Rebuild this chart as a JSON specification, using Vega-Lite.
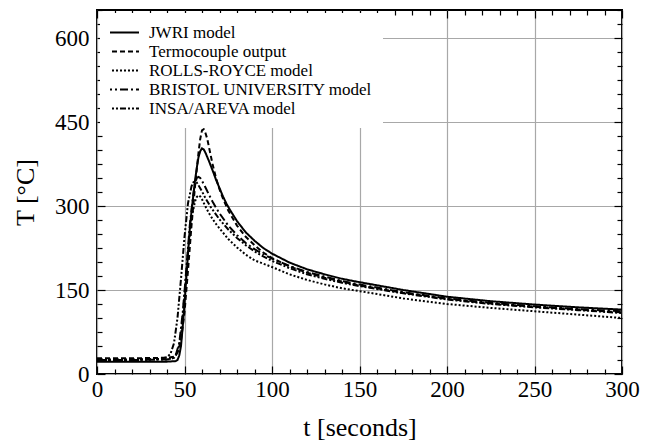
{
  "$schema": "https://vega.github.io/schema/vega-lite/v6.json",
  "width": 525,
  "height": 364,
  "autosize": {"type": "none"},
  "padding": {"left": 97, "top": 10, "right": 35, "bottom": 70},
  "background": "white",
  "config": {
    "font": "Liberation Serif",
    "view": {"stroke": "black", "strokeWidth": 2},
    "axis": {"domain": false, "labelFont": "Liberation Serif", "titleFont": "Liberation Serif", "labelColor": "black", "titleColor": "black", "tickColor": "black", "tickWidth": 1.2, "gridColor": "#a8a8a8", "gridWidth": 1.2, "titleFontWeight": "normal", "labelFontWeight": "normal", "labelOverlap": false, "labelFlush": false}
  },
  "data": {"values": [
    {"s":"JWRI model","t":0,"T":22},{"s":"JWRI model","t":20,"T":22},{"s":"JWRI model","t":40,"T":22},{"s":"JWRI model","t":45,"T":23},{"s":"JWRI model","t":46,"T":25},{"s":"JWRI model","t":47,"T":33},{"s":"JWRI model","t":48,"T":50},{"s":"JWRI model","t":49,"T":85},{"s":"JWRI model","t":50,"T":125},{"s":"JWRI model","t":51,"T":170},{"s":"JWRI model","t":52,"T":215},{"s":"JWRI model","t":53,"T":258},{"s":"JWRI model","t":54,"T":290},{"s":"JWRI model","t":55,"T":318},{"s":"JWRI model","t":56,"T":345},{"s":"JWRI model","t":57,"T":368},{"s":"JWRI model","t":58,"T":387},{"s":"JWRI model","t":59,"T":398},{"s":"JWRI model","t":60,"T":403},{"s":"JWRI model","t":61,"T":401},{"s":"JWRI model","t":62,"T":395},{"s":"JWRI model","t":64,"T":380},{"s":"JWRI model","t":66,"T":364},{"s":"JWRI model","t":68,"T":347},{"s":"JWRI model","t":70,"T":332},{"s":"JWRI model","t":72,"T":317},{"s":"JWRI model","t":74,"T":304},{"s":"JWRI model","t":76,"T":293},{"s":"JWRI model","t":80,"T":273},{"s":"JWRI model","t":85,"T":253},{"s":"JWRI model","t":90,"T":238},{"s":"JWRI model","t":95,"T":225},{"s":"JWRI model","t":100,"T":215},{"s":"JWRI model","t":110,"T":199},{"s":"JWRI model","t":120,"T":187},{"s":"JWRI model","t":130,"T":178},{"s":"JWRI model","t":140,"T":170},{"s":"JWRI model","t":150,"T":164},{"s":"JWRI model","t":175,"T":150},{"s":"JWRI model","t":200,"T":138},{"s":"JWRI model","t":225,"T":130},{"s":"JWRI model","t":250,"T":124},{"s":"JWRI model","t":275,"T":119},{"s":"JWRI model","t":300,"T":115},
    {"s":"Termocouple output","t":0,"T":28},{"s":"Termocouple output","t":20,"T":28},{"s":"Termocouple output","t":40,"T":29},{"s":"Termocouple output","t":44,"T":31},{"s":"Termocouple output","t":46,"T":38},{"s":"Termocouple output","t":48,"T":60},{"s":"Termocouple output","t":50,"T":110},{"s":"Termocouple output","t":52,"T":185},{"s":"Termocouple output","t":54,"T":265},{"s":"Termocouple output","t":56,"T":335},{"s":"Termocouple output","t":58,"T":395},{"s":"Termocouple output","t":59,"T":420},{"s":"Termocouple output","t":60,"T":435},{"s":"Termocouple output","t":61,"T":437},{"s":"Termocouple output","t":62,"T":430},{"s":"Termocouple output","t":63,"T":420},{"s":"Termocouple output","t":64,"T":405},{"s":"Termocouple output","t":66,"T":375},{"s":"Termocouple output","t":68,"T":350},{"s":"Termocouple output","t":70,"T":330},{"s":"Termocouple output","t":72,"T":313},{"s":"Termocouple output","t":75,"T":292},{"s":"Termocouple output","t":80,"T":265},{"s":"Termocouple output","t":85,"T":245},{"s":"Termocouple output","t":90,"T":230},{"s":"Termocouple output","t":95,"T":217},{"s":"Termocouple output","t":100,"T":207},{"s":"Termocouple output","t":110,"T":192},{"s":"Termocouple output","t":120,"T":181},{"s":"Termocouple output","t":130,"T":172},{"s":"Termocouple output","t":140,"T":165},{"s":"Termocouple output","t":150,"T":158},{"s":"Termocouple output","t":175,"T":145},{"s":"Termocouple output","t":200,"T":134},{"s":"Termocouple output","t":225,"T":126},{"s":"Termocouple output","t":250,"T":120},{"s":"Termocouple output","t":275,"T":115},{"s":"Termocouple output","t":300,"T":110},
    {"s":"ROLLS-ROYCE model","t":0,"T":25},{"s":"ROLLS-ROYCE model","t":20,"T":25},{"s":"ROLLS-ROYCE model","t":40,"T":26},{"s":"ROLLS-ROYCE model","t":44,"T":29},{"s":"ROLLS-ROYCE model","t":46,"T":38},{"s":"ROLLS-ROYCE model","t":48,"T":70},{"s":"ROLLS-ROYCE model","t":50,"T":140},{"s":"ROLLS-ROYCE model","t":52,"T":220},{"s":"ROLLS-ROYCE model","t":54,"T":278},{"s":"ROLLS-ROYCE model","t":56,"T":308},{"s":"ROLLS-ROYCE model","t":57,"T":316},{"s":"ROLLS-ROYCE model","t":58,"T":319},{"s":"ROLLS-ROYCE model","t":59,"T":317},{"s":"ROLLS-ROYCE model","t":60,"T":312},{"s":"ROLLS-ROYCE model","t":62,"T":299},{"s":"ROLLS-ROYCE model","t":64,"T":287},{"s":"ROLLS-ROYCE model","t":66,"T":277},{"s":"ROLLS-ROYCE model","t":68,"T":268},{"s":"ROLLS-ROYCE model","t":70,"T":260},{"s":"ROLLS-ROYCE model","t":75,"T":241},{"s":"ROLLS-ROYCE model","t":80,"T":226},{"s":"ROLLS-ROYCE model","t":85,"T":213},{"s":"ROLLS-ROYCE model","t":90,"T":203},{"s":"ROLLS-ROYCE model","t":95,"T":197},{"s":"ROLLS-ROYCE model","t":100,"T":191},{"s":"ROLLS-ROYCE model","t":110,"T":178},{"s":"ROLLS-ROYCE model","t":120,"T":168},{"s":"ROLLS-ROYCE model","t":130,"T":160},{"s":"ROLLS-ROYCE model","t":140,"T":153},{"s":"ROLLS-ROYCE model","t":150,"T":148},{"s":"ROLLS-ROYCE model","t":175,"T":135},{"s":"ROLLS-ROYCE model","t":200,"T":125},{"s":"ROLLS-ROYCE model","t":225,"T":118},{"s":"ROLLS-ROYCE model","t":250,"T":112},{"s":"ROLLS-ROYCE model","t":275,"T":106},{"s":"ROLLS-ROYCE model","t":300,"T":100},
    {"s":"BRISTOL UNIVERSITY model","t":0,"T":25},{"s":"BRISTOL UNIVERSITY model","t":20,"T":25},{"s":"BRISTOL UNIVERSITY model","t":40,"T":26},{"s":"BRISTOL UNIVERSITY model","t":43,"T":28},{"s":"BRISTOL UNIVERSITY model","t":45,"T":34},{"s":"BRISTOL UNIVERSITY model","t":47,"T":55},{"s":"BRISTOL UNIVERSITY model","t":49,"T":110},{"s":"BRISTOL UNIVERSITY model","t":51,"T":185},{"s":"BRISTOL UNIVERSITY model","t":53,"T":265},{"s":"BRISTOL UNIVERSITY model","t":55,"T":320},{"s":"BRISTOL UNIVERSITY model","t":56,"T":340},{"s":"BRISTOL UNIVERSITY model","t":57,"T":350},{"s":"BRISTOL UNIVERSITY model","t":58,"T":352},{"s":"BRISTOL UNIVERSITY model","t":59,"T":350},{"s":"BRISTOL UNIVERSITY model","t":60,"T":345},{"s":"BRISTOL UNIVERSITY model","t":62,"T":333},{"s":"BRISTOL UNIVERSITY model","t":64,"T":320},{"s":"BRISTOL UNIVERSITY model","t":66,"T":308},{"s":"BRISTOL UNIVERSITY model","t":68,"T":297},{"s":"BRISTOL UNIVERSITY model","t":70,"T":287},{"s":"BRISTOL UNIVERSITY model","t":75,"T":265},{"s":"BRISTOL UNIVERSITY model","t":80,"T":248},{"s":"BRISTOL UNIVERSITY model","t":85,"T":234},{"s":"BRISTOL UNIVERSITY model","t":90,"T":223},{"s":"BRISTOL UNIVERSITY model","t":95,"T":214},{"s":"BRISTOL UNIVERSITY model","t":100,"T":206},{"s":"BRISTOL UNIVERSITY model","t":110,"T":193},{"s":"BRISTOL UNIVERSITY model","t":120,"T":182},{"s":"BRISTOL UNIVERSITY model","t":130,"T":174},{"s":"BRISTOL UNIVERSITY model","t":140,"T":166},{"s":"BRISTOL UNIVERSITY model","t":150,"T":160},{"s":"BRISTOL UNIVERSITY model","t":175,"T":146},{"s":"BRISTOL UNIVERSITY model","t":200,"T":135},{"s":"BRISTOL UNIVERSITY model","t":225,"T":127},{"s":"BRISTOL UNIVERSITY model","t":250,"T":121},{"s":"BRISTOL UNIVERSITY model","t":275,"T":116},{"s":"BRISTOL UNIVERSITY model","t":300,"T":112},
    {"s":"INSA/AREVA model","t":0,"T":26},{"s":"INSA/AREVA model","t":20,"T":26},{"s":"INSA/AREVA model","t":36,"T":27},{"s":"INSA/AREVA model","t":40,"T":30},{"s":"INSA/AREVA model","t":42,"T":36},{"s":"INSA/AREVA model","t":44,"T":55},{"s":"INSA/AREVA model","t":46,"T":100},{"s":"INSA/AREVA model","t":48,"T":170},{"s":"INSA/AREVA model","t":50,"T":245},{"s":"INSA/AREVA model","t":52,"T":305},{"s":"INSA/AREVA model","t":54,"T":335},{"s":"INSA/AREVA model","t":55,"T":342},{"s":"INSA/AREVA model","t":56,"T":344},{"s":"INSA/AREVA model","t":57,"T":342},{"s":"INSA/AREVA model","t":58,"T":337},{"s":"INSA/AREVA model","t":60,"T":326},{"s":"INSA/AREVA model","t":62,"T":314},{"s":"INSA/AREVA model","t":65,"T":298},{"s":"INSA/AREVA model","t":70,"T":276},{"s":"INSA/AREVA model","t":75,"T":258},{"s":"INSA/AREVA model","t":80,"T":243},{"s":"INSA/AREVA model","t":85,"T":230},{"s":"INSA/AREVA model","t":90,"T":219},{"s":"INSA/AREVA model","t":95,"T":210},{"s":"INSA/AREVA model","t":100,"T":202},{"s":"INSA/AREVA model","t":110,"T":189},{"s":"INSA/AREVA model","t":120,"T":178},{"s":"INSA/AREVA model","t":130,"T":170},{"s":"INSA/AREVA model","t":140,"T":163},{"s":"INSA/AREVA model","t":150,"T":157},{"s":"INSA/AREVA model","t":175,"T":144},{"s":"INSA/AREVA model","t":200,"T":133},{"s":"INSA/AREVA model","t":225,"T":125},{"s":"INSA/AREVA model","t":250,"T":119},{"s":"INSA/AREVA model","t":275,"T":114},{"s":"INSA/AREVA model","t":300,"T":109}
  ]},
  "resolve": {"axis": {"x": "independent", "y": "independent"}},
  "layer": [
    {
      "mark": {"type": "line", "color": "black", "strokeWidth": 2, "clip": true},
      "encoding": {
        "x": {"field": "t", "type": "quantitative", "scale": {"domain": [0, 300], "nice": false},
          "axis": {"orient": "bottom", "values": [0,10,20,30,40,50,60,70,80,90,100,110,120,130,140,150,160,170,180,190,200,210,220,230,240,250,260,270,280,290,300],
            "labelExpr": "datum.value % 50 === 0 ? datum.label : ''",
            "tickSize": {"condition": {"test": "datum.value % 50 === 0", "value": -8}, "value": -5},
            "gridOpacity": {"condition": {"test": "datum.value % 50 === 0", "value": 1}, "value": 0},
            "labelFontSize": 23, "labelPadding": 12, "title": "t [seconds]", "titleFontSize": 26, "titlePadding": 10}},
        "y": {"field": "T", "type": "quantitative", "scale": {"domain": [0, 650], "nice": false},
          "axis": {"orient": "left", "values": [0,25,50,75,100,125,150,175,200,225,250,275,300,325,350,375,400,425,450,475,500,525,550,575,600,625,650],
            "labelExpr": "datum.value % 150 === 0 ? datum.label : ''",
            "tickSize": {"condition": {"test": "datum.value % 150 === 0", "value": -8}, "value": -5},
            "gridOpacity": {"condition": {"test": "datum.value % 150 === 0", "value": 1}, "value": 0},
            "labelFontSize": 23, "labelPadding": 16, "title": "T [°C]", "titleFontSize": 26, "titlePadding": 16}},
        "strokeDash": {"field": "s", "type": "nominal",
          "scale": {"domain": ["JWRI model", "Termocouple output", "ROLLS-ROYCE model", "BRISTOL UNIVERSITY model", "INSA/AREVA model"],
            "range": [[1, 0], [5, 3], [2, 2], [8, 3, 2, 3], [6, 2, 2, 2, 2, 2]]},
          "legend": {"orient": "top-left", "title": null, "offset": 3, "padding": 10, "fillColor": "white",
            "labelFont": "Liberation Serif", "labelFontSize": 17, "labelColor": "black", "labelOffset": 9, "labelLimit": 400,
            "symbolType": "stroke", "symbolSize": 1225, "symbolOffset": -7, "symbolStrokeWidth": 2, "symbolStrokeColor": "black", "clipHeight": 19, "rowPadding": 0}}
      }
    },
    {
      "mark": {"type": "point", "opacity": 0},
      "encoding": {
        "x": {"field": "t", "type": "quantitative",
          "axis": {"orient": "top", "values": [0,10,20,30,40,50,60,70,80,90,100,110,120,130,140,150,160,170,180,190,200,210,220,230,240,250,260,270,280,290,300],
            "labels": false, "grid": false, "title": null,
            "tickSize": {"condition": {"test": "datum.value % 50 === 0", "value": -8}, "value": -5}}},
        "y": {"field": "T", "type": "quantitative",
          "axis": {"orient": "right", "values": [0,25,50,75,100,125,150,175,200,225,250,275,300,325,350,375,400,425,450,475,500,525,550,575,600,625,650],
            "labels": false, "grid": false, "title": null,
            "tickSize": {"condition": {"test": "datum.value % 150 === 0", "value": -8}, "value": -5}}}
      }
    }
  ]
}
